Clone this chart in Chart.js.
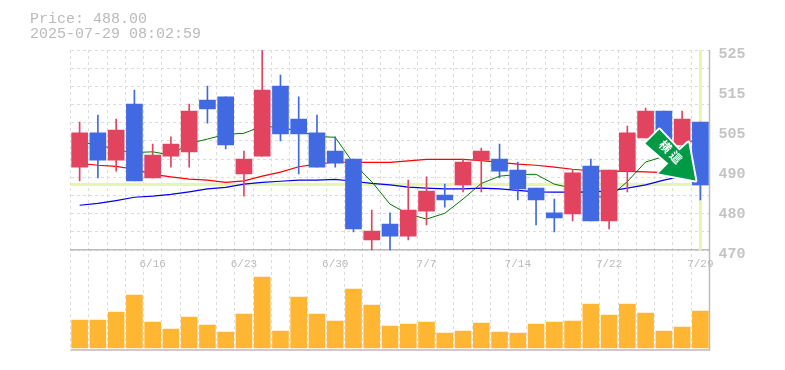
<!DOCTYPE html>
<html>
<head>
<meta charset="utf-8">
<script src="https://cdn.jsdelivr.net/npm/chart.js@4"></script>
<style>
body { margin: 0; background: #fff; }
</style>
</head>
<body>
<canvas id="myChart" width="785" height="370"></canvas>
<script>
// data
const dates = ['6/10', '6/11', '6/12', '6/13', '6/16', '6/17', '6/18', '6/19', '6/20', '6/23', '6/24', '6/25', '6/26', '6/27', '6/30', '7/1', '7/2', '7/3', '7/4', '7/7', '7/8', '7/9', '7/10', '7/11', '7/14', '7/15', '7/16', '7/17', '7/18', '7/22', '7/23', '7/24', '7/25', '7/28', '7/29'];
const shownDates = ['6/16', '6/23', '6/30', '7/7', '7/14', '7/22', '7/29'];

const open = [492.8, 502.2, 494.7, 510.1, 489.8, 495.8, 497.0, 511.2, 512.1, 490.9, 495.8, 515.1, 506.0, 502.2, 497.2, 495.0, 472.8, 477.1, 473.8, 480.7, 485.1, 487.9, 494.7, 495.0, 492.0, 487.0, 480.2, 479.9, 493.1, 478.0, 491.7, 500.8, 508.2, 498.9, 505.2];
const close = [502.2, 494.7, 503.0, 489.0, 496.1, 499.1, 508.2, 508.8, 498.9, 495.0, 514.0, 501.9, 501.9, 492.8, 493.9, 475.8, 475.2, 473.8, 481.0, 486.2, 483.8, 494.2, 497.2, 491.7, 486.8, 483.8, 478.8, 491.2, 478.0, 492.0, 502.2, 508.2, 498.9, 506.0, 487.9];
const high = [505.2, 507.1, 506.0, 514.0, 499.1, 501.1, 510.1, 515.1, 512.1, 497.2, 525.0, 518.1, 512.1, 507.1, 501.1, 495.0, 481.0, 480.2, 489.2, 490.1, 488.1, 495.0, 498.0, 499.1, 494.2, 487.0, 484.0, 492.0, 495.0, 492.0, 504.1, 509.0, 508.2, 508.2, 505.2];
const low = [489.0, 489.8, 491.7, 489.0, 489.8, 492.8, 492.8, 504.9, 497.8, 484.8, 495.8, 500.0, 490.9, 492.8, 492.8, 475.0, 470.0, 470.0, 472.8, 476.9, 481.8, 486.0, 486.0, 489.8, 483.8, 476.9, 475.0, 478.0, 478.0, 475.8, 486.0, 500.8, 498.9, 498.9, 483.8];

const maShort = [499.5, 499.1, 497.5, 496.8, 497.0, 496.1, 499.3, 500.5, 501.8, 502.1, 504.1, 503.6, 502.8, 501.2, 501.0, 493.8, 488.8, 482.6, 479.9, 478.5, 480.1, 484.0, 488.3, 490.3, 490.8, 490.8, 488.1, 487.0, 484.7, 484.5, 488.8, 494.2, 495.7, 498.6, 501.2];
const maMid = [493.8, 493.3, 493.0, 492.2, 490.8, 490.1, 489.5, 489.2, 488.6, 489.0, 490.3, 491.4, 492.9, 493.6, 494.2, 494.1, 494.1, 494.1, 494.5, 494.9, 494.9, 494.9, 494.6, 494.1, 493.6, 493.3, 492.8, 492.2, 491.8, 491.7, 491.6, 491.5, 491.3, 491.1, 490.9];
const maLong = [482.3, 482.8, 483.6, 484.5, 484.8, 485.3, 486.0, 486.8, 487.2, 488.1, 488.6, 488.9, 489.2, 489.2, 489.4, 488.9, 488.3, 487.9, 487.3, 487.0, 486.8, 486.8, 487.0, 486.8, 486.4, 486.0, 485.9, 485.9, 486.0, 486.2, 487.0, 487.9, 489.2, 490.3, 491.1];

const volume = [84, 84, 108, 159, 78, 57, 93, 69, 48, 102, 213, 51, 153, 102, 81, 177, 129, 66, 72, 78, 45, 51, 75, 48, 45, 72, 78, 81, 132, 99, 132, 105, 51, 63, 111];

const gridValues = [525, 520, 515, 510, 505, 500, 495, 490, 485, 480, 475, 470];
const priceTickValues = [523.9, 512.9, 501.9, 490.9, 479.9, 468.9];
const priceTickLabels = ['525', '515', '505', '490', '480', '470'];

const lastPrice = 488;
const headerLines = ['Price: 488.00', '2025-07-29 08:02:59'];
const arrowText = ['横', '這'];

const red = '#e2435f';
const blue = '#4169e1';
const grey = '#bbbbbb';
const pale = '#e6f5b0';

const bodies = open.map(function(v, i) { return [v, close[i]]; });
const wicks = low.map(function(v, i) { return [v, high[i]]; });
const candleColors = open.map(function(v, i) { return close[i] > v ? red : blue; });

// pale price lines, frame, header
const backLines = {
    id: 'backLines',
    beforeDatasetsDraw: function(chart) {
        const c = chart.ctx, a = chart.chartArea, s = chart.scales;
        const y = s.y.getPixelForValue(lastPrice);
        const x = s.x.getPixelForValue(dates.length - 1);
        c.save();
        c.strokeStyle = pale;
        c.lineWidth = 3;
        c.beginPath();
        c.moveTo(a.left, y);
        c.lineTo(a.right, y);
        c.moveTo(x, a.top);
        c.lineTo(x, s.y.getPixelForValue(470));
        c.stroke();
        c.strokeStyle = grey;
        c.lineWidth = 1.5;
        c.beginPath();
        c.moveTo(a.left, a.bottom);
        c.lineTo(a.right, a.bottom);
        c.lineTo(a.right, a.top);
        c.stroke();
        c.fillStyle = grey;
        c.font = '15px "Liberation Mono"';
        c.textBaseline = 'alphabetic';
        c.fillText(headerLines[0], 30, 23);
        c.fillText(headerLines[1], 30, 38);
        c.restore();
    }
};

// signal arrow, anchored on the last candle
const signalArrow = {
    id: 'signalArrow',
    afterDatasetsDraw: function(chart) {
        const c = chart.ctx, s = chart.scales;
        const ox = s.x.getPixelForValue(dates.length - 1);
        const oy = s.y.getPixelForValue(lastPrice);
        const shape = [[-41, -55], [-55, -41], [-32, -21], [-42, -11], [-5, -4], [-12, -42], [-21, -34]];
        c.save();
        c.translate(ox, oy);
        c.beginPath();
        shape.forEach(function(p, i) {
            if (i === 0) c.moveTo(p[0], p[1]); else c.lineTo(p[0], p[1]);
        });
        c.closePath();
        c.lineJoin = 'round';
        c.strokeStyle = '#fff';
        c.lineWidth = 4;
        c.stroke();
        c.fillStyle = '#009944';
        c.fill();
        c.fillStyle = '#fff';
        c.font = 'bold 12px "Noto Sans CJK JP"';
        c.textAlign = 'center';
        c.textBaseline = 'middle';
        c.translate(-30, -33);
        c.rotate(Math.PI / 4);
        c.fillText(arrowText[0], -7, 0);
        c.fillText(arrowText[1], 8, 0);
        c.restore();
    }
};

new Chart(document.getElementById('myChart'), {
    data: {
        labels: dates,
        datasets: [
            { type: 'bar', data: bodies, backgroundColor: candleColors, barThickness: 16, grouped: false, order: 1, yAxisID: 'y' },
            { type: 'bar', data: wicks, backgroundColor: candleColors, barThickness: 1, grouped: false, order: 2, yAxisID: 'y' },
            { type: 'line', data: maShort, borderColor: '#007a00', borderWidth: 1, pointRadius: 0, tension: 0, order: 3, yAxisID: 'y' },
            { type: 'line', data: maMid, borderColor: '#ff0000', borderWidth: 1.2, pointRadius: 0, tension: 0, order: 3, yAxisID: 'y' },
            { type: 'line', data: maLong, borderColor: '#0000ee', borderWidth: 1.2, pointRadius: 0, tension: 0, order: 3, yAxisID: 'y' },
            { type: 'bar', data: volume, backgroundColor: '#ffb733', barThickness: 16, grouped: false, order: 4, yAxisID: 'vol' }
        ]
    },
    options: {
        responsive: false,
        animation: false,
        events: [],
        layout: { padding: { left: 70.5, right: 0, top: 50, bottom: 20 } },
        plugins: { legend: { display: false }, title: { display: false }, tooltip: { enabled: false } },
        scales: {
            x: {
                position: { y: 470 },
                offset: true,
                grid: { offset: true, color: '#dddddd', drawTicks: false },
                border: { display: true, color: grey, width: 1.5, dash: [3, 3] },
                ticks: {
                    autoSkip: false,
                    maxRotation: 0,
                    padding: 7,
                    color: grey,
                    font: { family: '"Liberation Mono"', size: 11 },
                    callback: function(v) {
                        const d = dates[v];
                        return shownDates.indexOf(d) >= 0 ? d : '';
                    }
                }
            },
            y: {
                min: 442.5,
                max: 525,
                position: 'left',
                afterBuildTicks: function(axis) {
                    axis.ticks = gridValues.map(function(v) { return { value: v }; });
                },
                afterFit: function(axis) { axis.width = 0; },
                grid: { color: '#dddddd', drawTicks: false },
                border: { display: false, dash: [3, 3] },
                ticks: { display: false }
            },
            vol: {
                min: -6,
                max: 894,
                display: false
            },
            priceLabels: {
                min: 442.5,
                max: 525,
                position: 'right',
                afterBuildTicks: function(axis) {
                    axis.ticks = priceTickValues.map(function(v) { return { value: v }; });
                },
                afterFit: function(axis) { axis.width = 75.5; },
                grid: { display: false, drawTicks: false },
                border: { display: false },
                ticks: {
                    padding: 9,
                    color: '#c4c4c4',
                    font: { family: '"Liberation Mono"', size: 15, weight: 'bold' },
                    callback: function(v, i) { return priceTickLabels[i]; }
                }
            }
        }
    },
    plugins: [backLines, signalArrow]
});
</script>
</body>
</html>
